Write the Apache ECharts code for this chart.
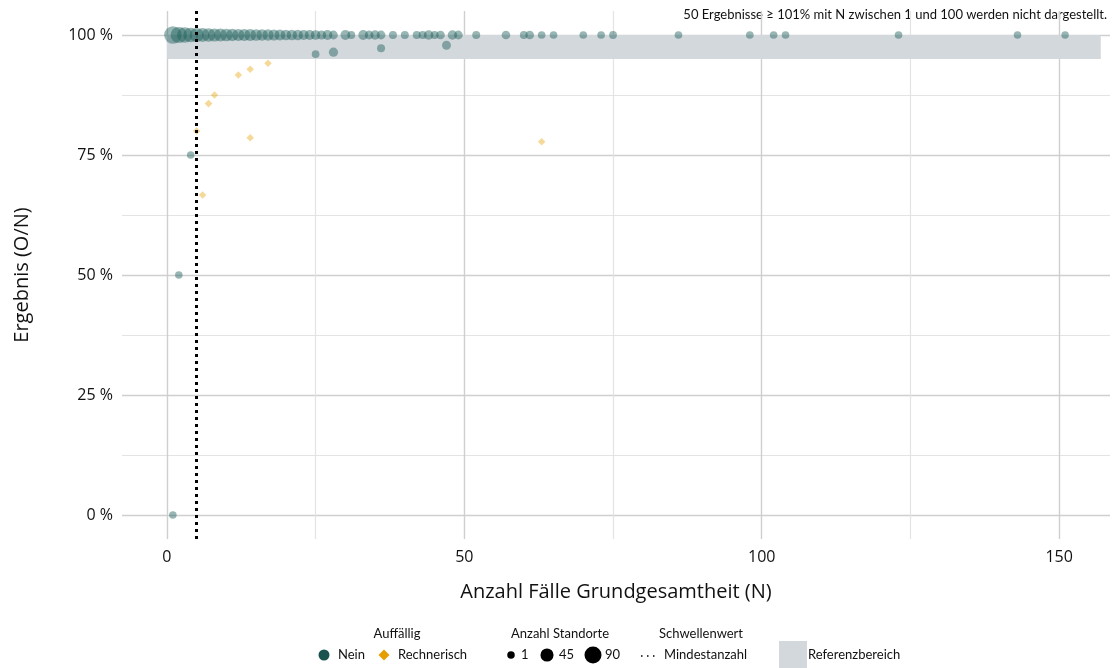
<!DOCTYPE html>
<html>
<head>
<meta charset="utf-8">
<script src="https://cdn.jsdelivr.net/npm/echarts@6/dist/echarts.min.js"></script>
<style>
  html, body { margin: 0; padding: 0; background: #ffffff; }
  #chart { width: 1114px; height: 668px; }
</style>
</head>
<body>
<div id="chart"></div>
<script>
// Results per location group: N (cases), result in %, number of sites at that point
const neinN = [1, 2, 3, 4, 5, 6, 7, 8, 9, 10, 11, 12, 13, 14, 15, 16, 17, 18, 19, 20,
  21, 22, 23, 24, 25, 26, 27, 28, 30, 31, 33, 34, 35, 36, 38, 40, 42, 43, 44, 45,
  46, 48, 49, 52, 57, 60, 61, 63, 65, 70, 73, 75, 86, 98, 102, 104, 123, 143, 151,
  25, 28, 36, 47, 1, 2, 4];
const neinPct = [100, 100, 100, 100, 100, 100, 100, 100, 100, 100, 100, 100, 100, 100, 100, 100, 100, 100, 100, 100,
  100, 100, 100, 100, 100, 100, 100, 100, 100, 100, 100, 100, 100, 100, 100, 100, 100, 100, 100, 100,
  100, 100, 100, 100, 100, 100, 100, 100, 100, 100, 100, 100, 100, 100, 100, 100, 100, 100, 100,
  96.0, 96.43, 97.22, 97.87, 0, 50, 75];
const neinSites = [95, 80, 70, 62, 56, 52, 48, 45, 42, 40, 38, 36, 34, 33, 32, 30, 28, 26, 24, 22,
  21, 20, 18, 16, 15, 12, 16, 9, 16, 3, 16, 9, 14, 9, 4, 4, 4, 4, 14, 4,
  8, 14, 9, 4, 8, 3, 8, 2, 2, 2, 2, 3, 2, 2, 2, 2, 2, 1, 1,
  2, 12, 4, 10, 1, 1, 1];

const rechN = [5, 6, 7, 8, 12, 14, 14, 17, 63];
const rechPct = [80.0, 66.67, 85.71, 87.5, 91.67, 92.86, 78.57, 94.12, 77.78];
const rechSites = [1, 1, 3, 1, 1, 1, 1, 1, 1];

const xTicks = [0, 50, 100, 150];
const xMinorTicks = [25, 75, 125];
const yTicks = [0, 25, 50, 75, 100];
const yMinorTicks = [12.5, 37.5, 62.5, 87.5];
const sizeBreaks = [1, 45, 90];

const mindestanzahl = 5;
const refBereich = [95, 100];
const refBereichN = [0, 157];

const COLOR_NEIN = '#1b5e58';
const COLOR_RECH = '#e69f00';

// point diameter grows with the square root of the number of sites
function siteSize(n) {
  return Math.sqrt(53.6 + 2.615 * n);
}

const neinData = neinN.map((n, i) => [n, neinPct[i], neinSites[i]]);
const rechData = rechN.map((n, i) => [n, rechPct[i], rechSites[i]]);

const chart = echarts.init(document.getElementById('chart'), null, { renderer: 'canvas' });

const axisFont = 'Open Sans';
const legendFont = 'Lato';

// legend built from graphic elements (three titled groups plus the band swatch)
const legendY = 655;
const titleY = 634;
const legendText = (x, y, text, align) => ({
  type: 'text', x: x, y: y,
  style: { text: text, fill: '#111', font: '13px ' + legendFont, textAlign: align || 'left', textVerticalAlign: 'middle' }
});

const legendGraphics = [
  legendText(397, titleY, 'Auffällig', 'center'),
  { type: 'circle', shape: { cx: 324, cy: legendY, r: 5.5 }, style: { fill: '#1a534e' } },
  legendText(338, legendY, 'Nein'),
  { type: 'polygon', shape: { points: [[384, 649.5], [389.5, 655], [384, 660.5], [378.5, 655]] }, style: { fill: COLOR_RECH } },
  legendText(398, legendY, 'Rechnerisch'),

  legendText(560, titleY, 'Anzahl Standorte', 'center'),
  { type: 'circle', shape: { cx: 511, cy: legendY, r: siteSize(sizeBreaks[0]) / 2 }, style: { fill: '#000' } },
  legendText(521, legendY, String(sizeBreaks[0])),
  { type: 'circle', shape: { cx: 547, cy: legendY, r: siteSize(sizeBreaks[1]) / 2 }, style: { fill: '#000' } },
  legendText(559, legendY, String(sizeBreaks[1])),
  { type: 'circle', shape: { cx: 593, cy: legendY, r: siteSize(sizeBreaks[2]) / 2 }, style: { fill: '#000' } },
  legendText(605, legendY, String(sizeBreaks[2])),

  legendText(701, titleY, 'Schwellenwert', 'center'),
  { type: 'line', shape: { x1: 641, y1: legendY + 1, x2: 659, y2: legendY + 1 },
    style: { stroke: '#000', lineWidth: 1.5, lineDash: [1.5, 4.5] } },
  legendText(664, legendY, 'Mindestanzahl'),

  { type: 'rect', shape: { x: 779, y: 641, width: 28, height: 27 }, style: { fill: '#d3d8dc' } },
  legendText(808, legendY, 'Referenzbereich'),

  { type: 'text', right: 7, top: 8,
    style: { text: '50 Ergebnisse ≥ 101% mit N zwischen 1 und 100 werden nicht dargestellt.',
      fill: '#111', font: '13px ' + legendFont } }
];

const option = {
  animation: false,
  backgroundColor: '#ffffff',
  grid: { left: 122, right: 4, top: 11, bottom: 129 },
  xAxis: [
    {
      type: 'value', min: -7.55, max: 158.55,
      name: 'Anzahl Fälle Grundgesamtheit (N)', nameLocation: 'middle', nameGap: 43,
      nameTextStyle: { fontFamily: axisFont, fontSize: 20, color: '#111' },
      axisLine: { show: false },
      axisTick: { show: false, customValues: xTicks },
      axisLabel: { customValues: xTicks, fontFamily: axisFont, fontSize: 16, color: '#111', margin: 10 },
      splitLine: { show: true, lineStyle: { color: '#cfcfcf', width: 1.4 } }
    },
    {
      type: 'value', min: -7.55, max: 158.55, position: 'bottom',
      axisLine: { show: false },
      axisTick: { show: false, customValues: xMinorTicks },
      axisLabel: { show: false, customValues: xMinorTicks },
      splitLine: { show: true, lineStyle: { color: '#e3e3e3', width: 1.2 } }
    }
  ],
  yAxis: [
    {
      type: 'value', min: -5, max: 105,
      name: 'Ergebnis (O/N)', nameLocation: 'middle', nameGap: 90,
      nameTextStyle: { fontFamily: axisFont, fontSize: 20, color: '#111' },
      axisLine: { show: false },
      axisTick: { show: false, customValues: yTicks },
      axisLabel: { customValues: yTicks, fontFamily: axisFont, fontSize: 16, color: '#111', margin: 9,
        formatter: v => v + ' %' },
      splitLine: { show: true, lineStyle: { color: '#cfcfcf', width: 1.4 } }
    },
    {
      type: 'value', min: -5, max: 105, position: 'left',
      axisLine: { show: false },
      axisTick: { show: false, customValues: yMinorTicks },
      axisLabel: { show: false, customValues: yMinorTicks },
      splitLine: { show: true, lineStyle: { color: '#e3e3e3', width: 1.2 } }
    }
  ],
  series: [
    {
      // reference range band
      name: 'Referenzbereich', type: 'scatter', data: [], z: 1,
      markArea: {
        silent: true,
        itemStyle: { color: '#d3d8dc' },
        data: [[{ xAxis: refBereichN[0], yAxis: refBereich[0] }, { xAxis: refBereichN[1], yAxis: refBereich[1] }]]
      }
    },
    {
      name: 'Nein', type: 'scatter', z: 3,
      symbol: 'circle',
      symbolSize: d => siteSize(d[2]),
      itemStyle: { color: COLOR_NEIN, opacity: 0.45 },
      data: neinData
    },
    {
      name: 'Rechnerisch', type: 'scatter', z: 3,
      symbol: 'diamond',
      symbolSize: d => siteSize(d[2]),
      itemStyle: { color: COLOR_RECH, opacity: 0.4 },
      data: rechData
    },
    {
      // minimum case count threshold
      name: 'Mindestanzahl', type: 'scatter', data: [], z: 5,
      markLine: {
        silent: true, symbol: 'none', z: 5,
        label: { show: false },
        lineStyle: { color: '#000000', type: [3, 4], width: 3 },
        data: [{ xAxis: mindestanzahl }]
      }
    }
  ],
  graphic: legendGraphics
};

chart.setOption(option);
</script>
</body>
</html>
